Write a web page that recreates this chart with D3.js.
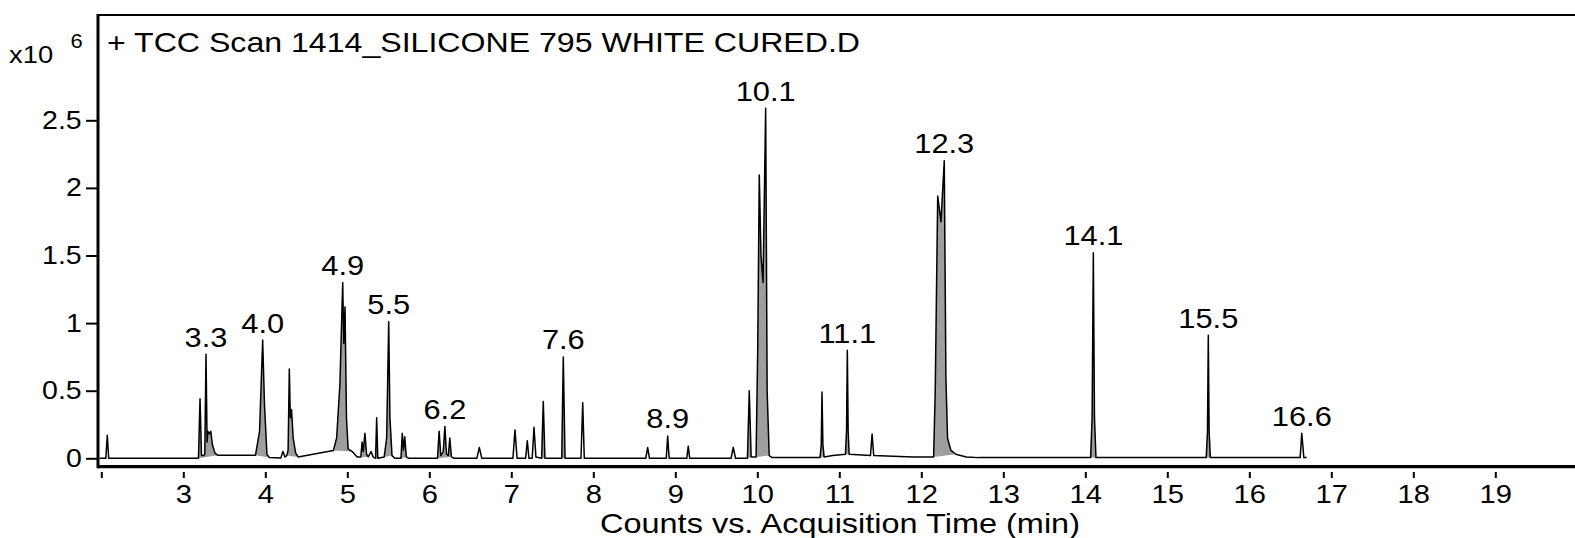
<!DOCTYPE html>
<html>
<head>
<meta charset="utf-8">
<script src="https://cdn.jsdelivr.net/npm/d3@7"></script>
<style>
body { margin: 0; background: #fff; }
svg { display: block; font-family: "Liberation Sans", Arial, sans-serif; }
</style>
</head>
<body>
<svg width="1575" height="538"></svg>
<script>
// chromatogram vertices: [time (min), counts (x10^6)]
var trace = [
  [1.98,0],[2.055,0],[2.073,0.17],[2.09,0],
  [3.185,0],[3.204,0.44],[3.222,0.02],[3.245,0.02],[3.262,0.03],[3.277,0.77],[3.29,0.12],[3.30,0.20],[3.318,0.18],[3.335,0.20],[3.355,0.10],[3.385,0.04],[3.42,0.022],
  [3.88,0.022],[3.93,0.2],[3.968,0.875],[3.99,0.4],[4.02,0.03],[4.05,0.005],
  [4.19,0.003],[4.215,0.05],[4.24,0.01],[4.262,0.02],[4.278,0.06],[4.293,0.66],[4.305,0.30],[4.32,0.36],[4.34,0.15],[4.37,0.04],[4.40,0.01],
  [4.83,0.057],[4.87,0.15],[4.91,0.55],[4.944,1.30],[4.957,0.85],[4.972,1.12],[4.99,0.30],[5.01,0.07],[5.06,0.05],[5.12,0.01],
  [5.165,0.01],[5.18,0.12],[5.195,0.05],[5.215,0.185],[5.235,0.03],[5.255,0.01],[5.29,0.05],[5.315,0.01],[5.345,0],[5.358,0.30],[5.372,0],
  [5.45,0.01],[5.48,0.15],[5.505,1.01],[5.52,0.3],[5.545,0.02],[5.58,0],
  [5.655,0],[5.67,0.185],[5.685,0.06],[5.70,0.16],[5.72,0.01],[5.75,0],
  [6.10,0],[6.12,0.20],[6.14,0.02],[6.17,0.05],[6.19,0.235],[6.21,0.03],[6.232,0.02],[6.25,0.15],[6.27,0.01],[6.30,0],
  [6.58,0],[6.61,0.08],[6.64,0],
  [7.02,0],[7.045,0.21],[7.07,0],
  [7.175,0],[7.195,0.13],[7.215,0],
  [7.255,0],[7.277,0.23],[7.30,0.01],
  [7.37,0],[7.39,0.42],[7.41,0],
  [7.615,0],[7.634,0.75],[7.655,0],
  [7.85,0],[7.871,0.41],[7.89,0],
  [8.64,0],[8.663,0.08],[8.685,0],
  [8.89,0],[8.907,0.165],[8.925,0],
  [9.14,0],[9.158,0.09],[9.175,0],
  [9.68,0],[9.707,0.08],[9.735,0],
  [9.88,0],[9.902,0.50],[9.925,0.01],
  [9.985,0.01],[10.005,0.8],[10.024,2.095],[10.045,1.5],[10.07,1.3],[10.102,2.59],[10.12,0.5],[10.145,0.02],[10.18,0.005],
  [10.765,0.005],[10.78,0.1],[10.789,0.49],[10.80,0.1],[10.815,0.01],[10.92,0.02],[11.075,0.03],[11.088,0.2],[11.098,0.80],[11.108,0.2],[11.12,0.03],
  [11.38,0.02],[11.40,0.18],[11.42,0.02],[11.9,0.01],
  [12.15,0.01],[12.17,0.5],[12.20,1.94],[12.24,1.75],[12.28,2.20],[12.30,0.6],[12.32,0.15],[12.36,0.06],[12.42,0.03],[12.55,0.01],[12.7,0.005],
  [14.065,0.005],[14.083,0.3],[14.098,1.52],[14.112,0.3],[14.13,0.005],
  [15.475,0.005],[15.49,0.2],[15.50,0.91],[15.51,0.2],[15.525,0.005],
  [16.62,0.005],[16.64,0.185],[16.665,0.005],[16.70,0.005]
];

// integrated peak windows (shaded grey), [start, end] in min
var fillWindows = [
  [3.185,3.42],[3.88,4.05],[4.262,4.40],[4.83,5.06],[5.165,5.255],[5.345,5.372],[5.45,5.545],
  [5.655,5.72],[6.10,6.27],[7.37,7.41],[7.615,7.655],[9.88,9.925],[9.985,10.145],[10.765,10.815],
  [11.075,11.12],[12.15,12.42],[14.065,14.13],[15.475,15.525]
];

// peak annotations (retention time labels)
var peakLabels = ["3.3","4.0","4.9","5.5","6.2","7.6","8.9","10.1","11.1","12.3","14.1","15.5","16.6"];

var xTicks = [2,3,4,5,6,7,8,9,10,11,12,13,14,15,16,17,18,19];
var yTicks = [0,0.5,1,1.5,2,2.5];

var chartTitle = "+ TCC Scan 1414_SILICONE 795 WHITE CURED.D";
var xTitle = "Counts vs. Acquisition Time (min)";

var svg = d3.select("svg"),
  frameLeft = 98, frameTop = 15, axisBottom = 466.7,
  width = +svg.attr("width");

var x = d3.scaleLinear().domain([2, 20]).range([101.3, 1577.3]);
var y = d3.scaleLinear().domain([0, 2.5]).range([458.3, 120.3]);

var line = d3.line()
    .x(function(d) { return x(d[0]); })
    .y(function(d) { return y(d[1]); });

// grey fill of integrated peaks
svg.append("g").selectAll("path")
  .data(fillWindows)
  .enter().append("path")
    .attr("d", function(w) {
      var pts = trace.filter(function(d) { return d[0] >= w[0] && d[0] <= w[1]; });
      return line(pts) + "Z";
    })
    .attr("fill", "#9e9e9e")
    .attr("stroke", "none");

svg.append("path")
    .datum(trace)
    .attr("d", line)
    .attr("fill", "none")
    .attr("stroke", "#000")
    .attr("stroke-width", 1.5)
    .attr("stroke-linejoin", "round");

// frame
svg.append("line").attr("x1", frameLeft).attr("x2", width).attr("y1", frameTop).attr("y2", frameTop)
    .attr("stroke", "#000").attr("stroke-width", 2);
svg.append("line").attr("x1", frameLeft).attr("x2", frameLeft).attr("y1", frameTop - 1).attr("y2", axisBottom + 1.5)
    .attr("stroke", "#000").attr("stroke-width", 3);
svg.append("line").attr("x1", frameLeft).attr("x2", width).attr("y1", axisBottom).attr("y2", axisBottom)
    .attr("stroke", "#000").attr("stroke-width", 3.2);

// y axis
var gy = svg.append("g")
    .attr("transform", "translate(" + 97 + ",0)")
    .call(d3.axisLeft(y).tickValues(yTicks).tickFormat(d3.format("~g")).tickSize(11).tickPadding(2.4));
gy.select(".domain").remove();
gy.selectAll(".tick line").attr("stroke-width", 2);
gy.selectAll(".tick text")
    .attr("font-size", 25)
    .attr("font-family", "Liberation Sans, Arial, sans-serif")
    .attr("fill", "#000")
    .attr("transform", "scale(1.14,1)");

// x axis
var gx = svg.append("g")
    .attr("transform", "translate(0,472)")
    .call(d3.axisBottom(x).tickValues(xTicks).tickFormat(function(d) { return d === 2 ? "" : d; }).tickSize(6).tickPadding(7));
gx.select(".domain").remove();
gx.selectAll(".tick line").attr("stroke-width", 2);
gx.selectAll(".tick text")
    .attr("font-size", 26)
    .attr("font-family", "Liberation Sans, Arial, sans-serif")
    .attr("fill", "#000")
    .attr("transform", "scale(1.12,1)");

// peak labels, centred over the apex found near each label time
svg.append("g").selectAll("text")
  .data(peakLabels)
  .enter().append("text")
    .attr("transform", function(lbl) {
      var t = +lbl;
      var near = trace.filter(function(d) { return Math.abs(d[0] - t) <= 0.08; });
      var apex = near.reduce(function(a, b) { return b[1] > a[1] ? b : a; });
      return "translate(" + x(apex[0]) + "," + (y(apex[1]) - 7.5) + ") scale(1.1,1)";
    })
    .attr("text-anchor", "middle")
    .attr("font-size", 28)
    .text(function(d) { return d; });

// title and units
svg.append("text")
    .attr("x", 107).attr("y", 52)
    .attr("font-size", 28)
    .attr("textLength", 753)
    .attr("lengthAdjust", "spacingAndGlyphs")
    .text(chartTitle);

svg.append("text")
    .attr("transform", "translate(9,63.3) scale(1.14,1)")
    .attr("font-size", 24)
    .text("x10");
svg.append("text")
    .attr("transform", "translate(70.5,47.7) scale(1.1,1)")
    .attr("font-size", 20)
    .text("6");

svg.append("text")
    .attr("x", 840).attr("y", 533)
    .attr("text-anchor", "middle")
    .attr("font-size", 28)
    .attr("textLength", 480)
    .attr("lengthAdjust", "spacingAndGlyphs")
    .text(xTitle);
</script>
</body>
</html>
